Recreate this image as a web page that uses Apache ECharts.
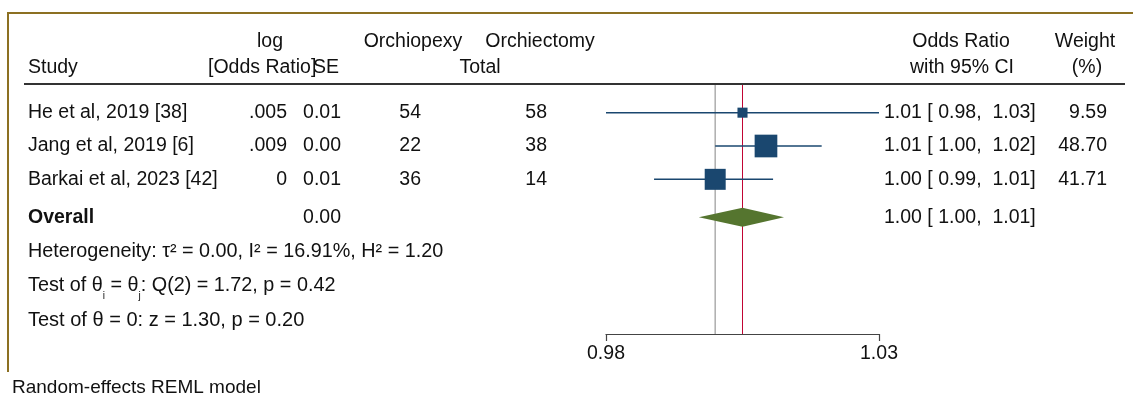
<!DOCTYPE html>
<html><head><meta charset="utf-8">
<script src="https://cdn.jsdelivr.net/npm/echarts@6/dist/echarts.min.js"></script>
<style>html,body{margin:0;padding:0;background:#fff}#c{width:1133px;height:398px}</style>
</head><body><div id="c"></div>
<script>
// ---- data ----
const studies = ['He et al, 2019 [38]', 'Jang et al, 2019 [6]', 'Barkai et al, 2023 [42]'];
const logOR = ['.005', '.009', '0'];
const seText = ['0.01', '0.00', '0.01'];
const orchiopexy = [54, 22, 36];
const orchiectomy = [58, 38, 14];
const oddsRatio = [1.005, 1.0093, 1.0000];
const ciLow = [0.980, 1.0000, 0.9888];
const ciHigh = [1.030, 1.0195, 1.0106];
const weights = [9.59, 48.70, 41.71];
const orLabels = ['1.01 [ 0.98,  1.03]', '1.01 [ 1.00,  1.02]', '1.00 [ 0.99,  1.01]'];
const weightLabels = ['9.59', '48.70', '41.71'];
const overallOR = 1.005;
const overallLow = 0.997;
const overallHigh = 1.0126;
const overallSE = '0.00';
const overallLabel = '1.00 [ 1.00,  1.01]';
const nullValue = 1.0;
const axisTicks = [0.98, 1.03];
const heterogeneityText = 'Heterogeneity: \u03c4\u00b2 = 0.00, I\u00b2 = 16.91%, H\u00b2 = 1.20';
const homogeneityText = 'Test of \u03b8{sub|i} = \u03b8{sub|j}: Q(2) = 1.72, p = 0.42';
const effectTestText = 'Test of \u03b8 = 0: z = 1.30, p = 0.20';
const modelNote = 'Random-effects REML model';

// ---- layout ----
const FONT = '"Liberation Sans", Arial, Helvetica, sans-serif';
const FS = 19.5;
const TXT = '#111';
const rowOf = i => 0.86 + i;
const overallRow = 4.0;
const statRows = [5.04, 6.06, 7.08];

const chart = echarts.init(document.getElementById('c'), null, {renderer: 'canvas'});

const studyData = studies.map((s, i) => [rowOf(i), ciLow[i], ciHigh[i], oddsRatio[i], weights[i]]);

chart.setOption({
  animation: false,
  backgroundColor: '#fff',
  grid: {left: 606, right: 254, top: 84, bottom: 64, containLabel: false},
  xAxis: {
    type: 'value', min: 0.98, max: 1.03, position: 'bottom',
    splitLine: {show: false},
    axisLine: {show: true, onZero: false, lineStyle: {color: '#444', width: 1.2}},
    axisTick: {show: true, inside: false, length: 7, customValues: axisTicks, lineStyle: {color: '#444', width: 1.2}},
    axisLabel: {show: true, customValues: axisTicks, margin: 10, fontFamily: FONT, fontSize: FS, color: TXT,
      formatter: v => Number(v).toFixed(2)}
  },
  yAxis: {type: 'value', min: 0, max: 7.5, inverse: true, show: false},
  series: [
    {
      type: 'line', silent: true, z: 1, symbol: 'none',
      data: [[nullValue, 0], [nullValue, 7.5]],
      lineStyle: {color: '#b2b2b2', width: 1.6}
    },
    {
      type: 'line', silent: true, z: 1, symbol: 'none',
      data: [[overallOR, 0], [overallOR, 7.5]],
      lineStyle: {color: '#c10534', width: 1}
    },
    {
      type: 'custom', z: 3,
      encode: {x: [1, 2, 3], y: 0},
      data: studyData,
      renderItem: function (params, api) {
        const y = api.value(0), lo = api.value(1), hi = api.value(2), est = api.value(3), w = api.value(4);
        const p1 = api.coord([lo, y]), p2 = api.coord([hi, y]), c = api.coord([est, y]);
        const s = 3.25 * Math.sqrt(w);
        return {type: 'group', children: [
          {type: 'line', shape: {x1: p1[0], y1: p1[1], x2: p2[0], y2: p2[1]}, style: {stroke: '#1a476f', lineWidth: 1.5}},
          {type: 'rect', shape: {x: c[0] - s / 2, y: c[1] - s / 2, width: s, height: s}, style: {fill: '#1a476f'}}
        ]};
      }
    },
    {
      type: 'custom', z: 2,
      encode: {x: [1, 2, 3], y: 0},
      data: [[overallRow, overallLow, overallHigh, overallOR]],
      renderItem: function (params, api) {
        const y = api.value(0);
        const a = api.coord([api.value(1), y]), b = api.coord([api.value(2), y]), c = api.coord([api.value(3), y]);
        const h = 9.5;
        return {type: 'polygon', shape: {points: [[a[0], a[1]], [c[0], c[1] - h], [b[0], b[1]], [c[0], c[1] + h]]},
          style: {fill: '#55752f'}};
      }
    }
  ]
});

const py = v => chart.convertToPixel({yAxisIndex: 0}, v);
const g = [];
function t(text, x, y, align, extra) {
  g.push({type: 'text', x: x, y: y, z: 10,
    style: Object.assign({text: text, fontFamily: FONT, fontSize: FS, fill: TXT, align: align || 'left', verticalAlign: 'middle'}, extra || {})});
}
// frame
g.push({type: 'polyline', z: 10, shape: {points: [[8, 372], [8, 13], [1140, 13]]}, style: {stroke: '#8c7022', lineWidth: 2, fill: null}});
// header rule
g.push({type: 'line', z: 10, shape: {x1: 24, y1: 84, x2: 1125, y2: 84}, style: {stroke: '#333', lineWidth: 2}});
// headers
t('log', 270, 42, 'center');
t('Orchiopexy', 413, 42, 'center');
t('Orchiectomy', 540, 42, 'center');
t('Odds Ratio', 961, 42, 'center');
t('Weight', 1085, 42, 'center');
t('Study', 28, 68, 'left');
t('[Odds Ratio]', 208, 68, 'left');
t('SE', 339, 68, 'right');
t('Total', 480, 68, 'center');
t('with 95% CI', 962, 68, 'center');
t('(%)', 1087, 68, 'center');
// rows
studies.forEach((s, i) => {
  const y = py(rowOf(i));
  t(s, 28, y, 'left');
  t(logOR[i], 287, y, 'right');
  t(seText[i], 341, y, 'right');
  t(String(orchiopexy[i]), 421, y, 'right');
  t(String(orchiectomy[i]), 547, y, 'right');
  t(orLabels[i], 884, y, 'left');
  t(weightLabels[i], 1107, y, 'right');
});
const oy = py(overallRow);
t('Overall', 28, oy, 'left', {fontWeight: 'bold'});
t(overallSE, 341, oy, 'right');
t(overallLabel, 884, oy, 'left');
// stats
t(heterogeneityText, 28, py(statRows[0]), 'left', {fontSize: 19.8});
g.push({type: 'text', x: 28, y: py(statRows[1]), z: 10, style: {
  text: homogeneityText,
  fontFamily: FONT, fontSize: 19.8, fill: TXT, verticalAlign: 'middle',
  rich: {sub: {fontFamily: FONT, fontSize: 10, fill: TXT, verticalAlign: 'bottom', lineHeight: 30}}
}});
t(effectTestText, 28, py(statRows[2]), 'left', {fontSize: 20});
t(modelNote, 12, 388, 'left', {fontSize: 19});
chart.setOption({graphic: {elements: g}});
</script></body></html>
